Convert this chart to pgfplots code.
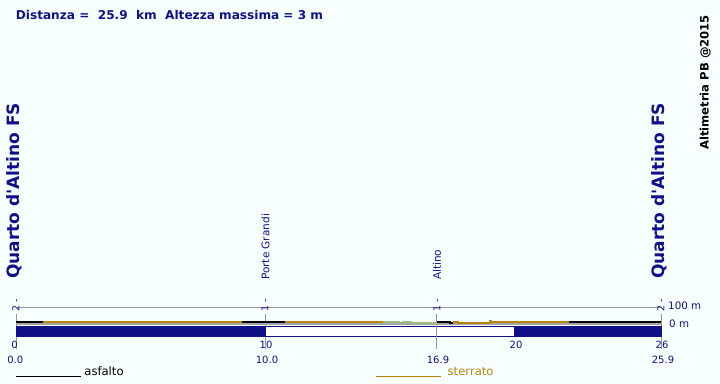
\documentclass[border=0pt]{standalone}
\usepackage{pgfplots}
\pgfplotsset{compat=1.18}
\usepackage{fontspec}
\setmainfont{DejaVu Sans}[Ligatures=TeXOff]
\definecolor{bg}{RGB}{248,255,255}
\definecolor{nv}{RGB}{16,16,136}
\definecolor{gold}{RGB}{184,134,11}
\definecolor{lgreen}{RGB}{155,190,130}
\definecolor{lgray}{RGB}{150,150,150}
\definecolor{ggray}{RGB}{165,165,165}
\newcommand{\fs}[1]{\fontsize{#1bp}{#1bp}\selectfont}
\begin{document}
\begin{tikzpicture}
\useasboundingbox (0,0) rectangle (720bp,384bp);
\fill[bg] (0,0) rectangle (720bp,384bp);
% ---- frame axis (km bands, reference lines)
\begin{axis}[at={(16bp,34bp)}, anchor=south west, scale only axis,
  width=645bp, height=42.75bp, xmin=0, xmax=25.9, ymin=-156, ymax=100,
  axis lines=none, clip=false]
\addplot[lgray, line width=1.1bp] coordinates {(0,100) (25.9,100)};
\addplot[fill=white, draw=nv, line width=0.9bp] coordinates {(10,-12) (20,-12) (20,-72) (10,-72)} -- cycle;
\addplot[lgray, line width=1bp] coordinates {(0,60) (0,-150)};
\addplot[lgray, line width=1bp] coordinates {(10,60) (10,-150)};
\addplot[lgray, line width=1bp] coordinates {(16.9,60) (16.9,-150)};
\addplot[lgray, line width=1bp] coordinates {(25.9,60) (25.9,-150)};
\addplot[fill=nv, draw=nv, line width=0.3bp] coordinates {(0,-12) (10,-12) (10,-72) (0,-72)} -- cycle;
\addplot[fill=nv, draw=nv, line width=0.3bp] coordinates {(20,-12) (25.9,-12) (25.9,-72) (20,-72)} -- cycle;
\end{axis}
% ---- elevation profile axis (1 bp per metre)
\begin{axis}[at={(16bp,60bp)}, anchor=south west, scale only axis,
  width=645bp, height=3bp, xmin=0, xmax=25.9, ymin=0, ymax=3,
  axis lines=none, clip=false]
\addplot[ggray, line width=1.4bp] coordinates {(0,0) (25.9,0)};
\addplot[black, line width=2bp] coordinates {(0,2) (1.07,2)};
\addplot[gold, line width=2bp] coordinates {(1.07,2) (9.06,2)};
\addplot[black, line width=2bp] coordinates {(9.06,2) (10.80,2)};
\addplot[gold, line width=2bp] coordinates {(10.80,2) (14.75,2)};
\addplot[lgreen, line width=2bp] coordinates {(14.75,2) (15.39,2) (15.39,1) (15.55,1) (15.55,2) (15.85,2) (15.85,1) (16.9,1)};
\addplot[black, line width=2bp] coordinates {(16.9,2) (17.43,2) (17.43,1) (17.53,1)};
\addplot[gold, line width=2bp] coordinates {(17.53,2) (17.76,2) (17.76,1) (19.03,1) (19.03,3) (19.07,3) (19.07,2) (22.22,2)};
\addplot[black, line width=2bp] coordinates {(22.22,2) (25.9,2)};
\end{axis}
% ---- texts
\node[anchor=base west, inner sep=0, text=nv, font=\fs{12.1}\bfseries] at (15.7bp,364.7bp) {Distanza =\ \ 25.9\ \ km\ \ Altezza massima = 3 m};
\node[anchor=base west, inner sep=0, rotate=90, font=\fs{11.6}\bfseries] at (708.5bp,234bp) {Altimetria PB @2015};
\node[anchor=base west, inner sep=0, rotate=90, text=nv, font=\fs{17}\bfseries] at (19.8bp,105bp) {Quarto d'Altino FS};
\node[anchor=base west, inner sep=0, rotate=90, text=nv, font=\fs{17}\bfseries] at (664.8bp,105bp) {Quarto d'Altino FS};
\node[anchor=base west, inner sep=0, rotate=90, text=nv, font=\fs{10.5}] at (269.3bp,104bp) {Porte Grandi};
\node[anchor=base west, inner sep=0, rotate=90, text=nv, font=\fs{10.5}] at (440.8bp,104bp) {Altino};
\node[anchor=base west, inner sep=0, rotate=90, text=nv, font=\fs{9.5}] at (19.4bp,72bp) {2 -};
\node[anchor=base west, inner sep=0, rotate=90, text=nv, font=\fs{9.5}] at (268.4bp,72bp) {1 -};
\node[anchor=base west, inner sep=0, rotate=90, text=nv, font=\fs{9.5}] at (440.3bp,72bp) {1 -};
\node[anchor=base west, inner sep=0, rotate=90, text=nv, font=\fs{9.5}] at (664.4bp,72bp) {2 -};
\node[anchor=base, inner sep=0, text=nv, font=\fs{10}] at (14.5bp,36bp) {0};
\node[anchor=base, inner sep=0, text=nv, font=\fs{10}] at (266bp,36bp) {10};
\node[anchor=base, inner sep=0, text=nv, font=\fs{10}] at (516bp,36bp) {20};
\node[anchor=base, inner sep=0, text=nv, font=\fs{10}] at (662bp,36bp) {26};
\node[anchor=base, inner sep=0, text=nv, font=\fs{10}] at (15.3bp,20.5bp) {0.0};
\node[anchor=base, inner sep=0, text=nv, font=\fs{10}] at (267bp,20.5bp) {10.0};
\node[anchor=base, inner sep=0, text=nv, font=\fs{10}] at (438bp,20.5bp) {16.9};
\node[anchor=base, inner sep=0, text=nv, font=\fs{10}] at (663bp,20.5bp) {25.9};
\node[anchor=base west, inner sep=0, text=nv, font=\fs{10.3}] at (668bp,74bp) {100 m};
\node[anchor=base west, inner sep=0, text=nv, font=\fs{10.3}] at (669bp,56.7bp) {0 m};
\draw[black, line width=1bp] (16bp,7.3bp) -- (80.7bp,7.3bp);
\node[anchor=base west, inner sep=0, font=\fs{11.6}] at (84.2bp,8.3bp) {asfalto};
\draw[gold, line width=1bp] (376bp,7.3bp) -- (440.7bp,7.3bp);
\node[anchor=base west, inner sep=0, text=gold, font=\fs{11.6}] at (447.5bp,8.3bp) {sterrato};
\end{tikzpicture}
\end{document}
